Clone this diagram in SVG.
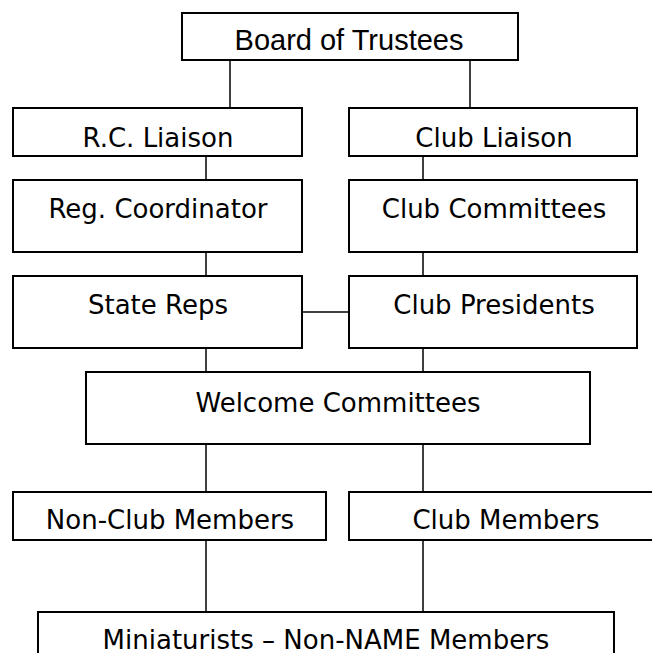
<svg xmlns="http://www.w3.org/2000/svg" width="652" height="653" viewBox="0 0 652 653">
<style>
.box{fill:#fff;stroke:#000;stroke-width:2}
.lbl{font-family:"DejaVu Sans",Verdana,sans-serif;font-size:26px;fill:#000;text-anchor:middle}
.arial{font-family:"Liberation Sans",Arial,sans-serif;font-size:29px;fill:#000;text-anchor:middle}
.conn line{stroke:#000;stroke-width:1.5}
</style>
<rect width="652" height="653" fill="#fff"/>
<g id="connectors" class="conn">
<line x1="230" y1="60" x2="230" y2="108"/>
<line x1="470" y1="60" x2="470" y2="108"/>
<line x1="206" y1="156" x2="206" y2="180"/>
<line x1="423" y1="156" x2="423" y2="180"/>
<line x1="206" y1="252" x2="206" y2="276"/>
<line x1="423" y1="252" x2="423" y2="276"/>
<line x1="302" y1="312" x2="349" y2="312"/>
<line x1="206" y1="348" x2="206" y2="372"/>
<line x1="423" y1="348" x2="423" y2="372"/>
<line x1="206" y1="444" x2="206" y2="492"/>
<line x1="423" y1="444" x2="423" y2="492"/>
<line x1="206" y1="540" x2="206" y2="612"/>
<line x1="423" y1="540" x2="423" y2="612"/>
</g>
<g id="board">
<rect class="box" x="182" y="13" width="336" height="47"/>
<text class="arial" x="349" y="50">Board of Trustees</text>
</g>
<g id="rc-liaison">
<rect class="box" x="13" y="108" width="289" height="48"/>
<text class="lbl" x="158" y="147">R.C. Liaison</text>
</g>
<g id="club-liaison">
<rect class="box" x="349" y="108" width="288" height="48"/>
<text class="lbl" x="494" y="147">Club Liaison</text>
</g>
<g id="reg-coordinator">
<rect class="box" x="13" y="180" width="289" height="72"/>
<text class="lbl" x="158" y="218">Reg. Coordinator</text>
</g>
<g id="club-committees">
<rect class="box" x="349" y="180" width="288" height="72"/>
<text class="lbl" x="494" y="218">Club Committees</text>
</g>
<g id="state-reps">
<rect class="box" x="13" y="276" width="289" height="72"/>
<text class="lbl" x="158" y="314">State Reps</text>
</g>
<g id="club-presidents">
<rect class="box" x="349" y="276" width="288" height="72"/>
<text class="lbl" x="494" y="314">Club Presidents</text>
</g>
<g id="welcome-committees">
<rect class="box" x="86" y="372" width="504" height="72"/>
<text class="lbl" x="338" y="412">Welcome Committees</text>
</g>
<g id="non-club-members">
<rect class="box" x="13" y="492" width="313" height="48"/>
<text class="lbl" x="170" y="529">Non-Club Members</text>
</g>
<g id="club-members">
<rect class="box" x="349" y="492" width="314" height="48"/>
<text class="lbl" x="506" y="529">Club Members</text>
</g>
<g id="miniaturists">
<rect class="box" x="38" y="612" width="576" height="60"/>
<text class="lbl" x="326" y="649">Miniaturists – Non-NAME Members</text>
</g>
</svg>
